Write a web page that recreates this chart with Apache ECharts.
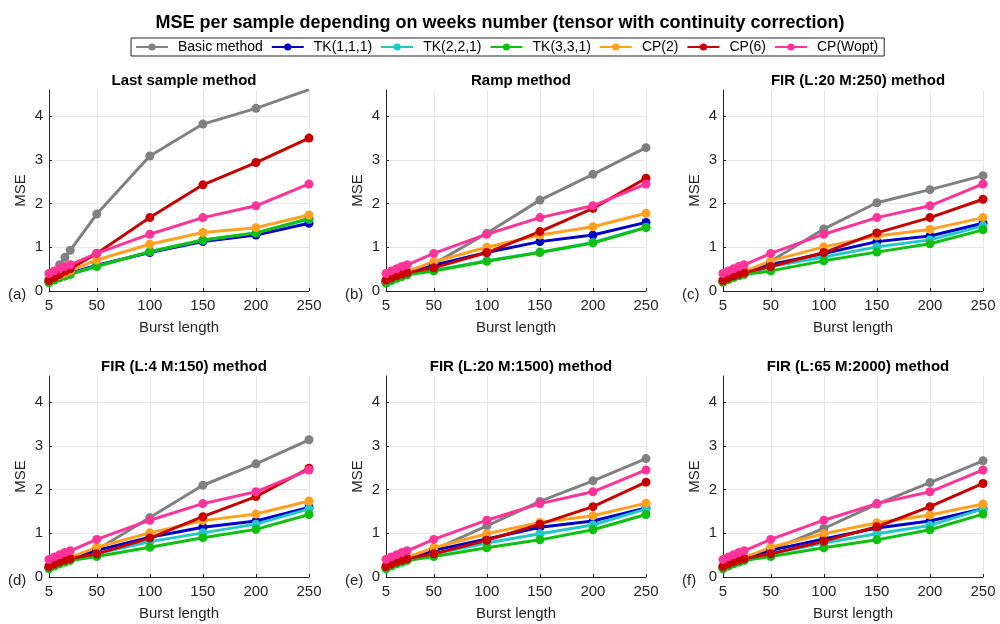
<!DOCTYPE html>
<html>
<head>
<meta charset="utf-8">
<script src="https://cdn.jsdelivr.net/npm/echarts@6/dist/echarts.min.js"></script>
<style>
  html, body { margin: 0; padding: 0; background: #fff; }
  #chart { width: 1000px; height: 624px; }
</style>
</head>
<body>
<div id="chart"></div>
<script>
// Burst lengths on the x axis
const burstLengths = [5, 10, 15, 20, 25, 50, 100, 150, 200, 250];
const xTicks = [5, 50, 100, 150, 200, 250];
const yTicks = [0, 1, 2, 3, 4];

const seriesNames = ['Basic method', 'TK(1,1,1)', 'TK(2,2,1)', 'TK(3,3,1)', 'CP(2)', 'CP(6)', 'CP(Wopt)'];
const seriesColors = ['#808080', '#0000c8', '#20c8c8', '#10c010', '#ffa020', '#c80000', '#ff3399'];

const panelTitles = [
  'Last sample method', 'Ramp method', 'FIR (L:20 M:250) method',
  'FIR (L:4 M:150) method', 'FIR (L:20 M:1500) method', 'FIR (L:65 M:2000) method'
];
const panelTags = ['(a)', '(b)', '(c)', '(d)', '(e)', '(f)'];

// CP(Wopt) does not depend on the reconstruction method
const cpWopt = [0.40, 0.46, 0.51, 0.56, 0.60, 0.86, 1.30, 1.68, 1.95, 2.45];

// Rows: Basic, TK(1,1,1), TK(2,2,1), TK(3,3,1), CP(2), CP(6)
const lastSample = [
  [0.25, 0.42, 0.60, 0.77, 0.93, 1.76, 3.09, 3.82, 4.18, 4.61],
  [0.22, 0.28, 0.33, 0.37, 0.41, 0.59, 0.88, 1.13, 1.28, 1.55],
  [0.21, 0.27, 0.32, 0.36, 0.39, 0.57, 0.90, 1.16, 1.33, 1.64],
  [0.19, 0.25, 0.30, 0.34, 0.38, 0.56, 0.90, 1.17, 1.33, 1.66],
  [0.25, 0.31, 0.36, 0.41, 0.46, 0.71, 1.07, 1.34, 1.45, 1.74],
  [0.24, 0.31, 0.38, 0.45, 0.51, 0.86, 1.68, 2.43, 2.94, 3.50]
];
const ramp = [
  [0.22, 0.28, 0.33, 0.37, 0.41, 0.62, 1.32, 2.08, 2.67, 3.28],
  [0.22, 0.28, 0.33, 0.37, 0.41, 0.59, 0.88, 1.13, 1.28, 1.57],
  [0.19, 0.25, 0.30, 0.34, 0.38, 0.47, 0.69, 0.89, 1.11, 1.46],
  [0.18, 0.24, 0.29, 0.33, 0.37, 0.46, 0.68, 0.88, 1.10, 1.45],
  [0.25, 0.31, 0.36, 0.41, 0.45, 0.67, 1.00, 1.28, 1.47, 1.78],
  [0.25, 0.30, 0.35, 0.39, 0.42, 0.53, 0.88, 1.36, 1.89, 2.58]
];
const fir20m250 = [
  [0.23, 0.29, 0.34, 0.38, 0.42, 0.68, 1.42, 2.02, 2.32, 2.64],
  [0.22, 0.28, 0.33, 0.37, 0.41, 0.61, 0.86, 1.13, 1.26, 1.55],
  [0.21, 0.27, 0.32, 0.36, 0.39, 0.56, 0.78, 1.01, 1.17, 1.49],
  [0.20, 0.26, 0.31, 0.35, 0.38, 0.46, 0.69, 0.89, 1.08, 1.40],
  [0.25, 0.31, 0.36, 0.41, 0.45, 0.69, 1.01, 1.26, 1.41, 1.68],
  [0.24, 0.30, 0.35, 0.39, 0.42, 0.56, 0.88, 1.33, 1.68, 2.10]
];
const fir4m150 = [
  [0.22, 0.28, 0.33, 0.37, 0.41, 0.62, 1.36, 2.10, 2.59, 3.14],
  [0.22, 0.28, 0.33, 0.37, 0.41, 0.61, 0.91, 1.14, 1.28, 1.59],
  [0.21, 0.27, 0.32, 0.36, 0.39, 0.53, 0.81, 1.01, 1.21, 1.56],
  [0.19, 0.25, 0.30, 0.34, 0.38, 0.47, 0.68, 0.90, 1.09, 1.43],
  [0.25, 0.31, 0.36, 0.41, 0.45, 0.68, 1.01, 1.29, 1.44, 1.74],
  [0.24, 0.30, 0.35, 0.39, 0.42, 0.53, 0.89, 1.38, 1.84, 2.49]
];
const fir20m1500 = [
  [0.22, 0.28, 0.33, 0.37, 0.41, 0.62, 1.17, 1.73, 2.20, 2.71],
  [0.22, 0.28, 0.33, 0.37, 0.41, 0.61, 0.87, 1.14, 1.28, 1.58],
  [0.21, 0.27, 0.32, 0.36, 0.39, 0.53, 0.78, 0.99, 1.19, 1.56],
  [0.19, 0.25, 0.30, 0.34, 0.38, 0.47, 0.67, 0.85, 1.08, 1.43],
  [0.25, 0.31, 0.36, 0.41, 0.45, 0.67, 0.99, 1.25, 1.40, 1.69],
  [0.24, 0.30, 0.35, 0.39, 0.42, 0.53, 0.84, 1.21, 1.61, 2.17]
];
const fir65m2000 = [
  [0.22, 0.28, 0.33, 0.37, 0.41, 0.62, 1.11, 1.67, 2.16, 2.66],
  [0.22, 0.28, 0.33, 0.37, 0.41, 0.61, 0.87, 1.12, 1.28, 1.56],
  [0.21, 0.27, 0.32, 0.36, 0.39, 0.53, 0.78, 0.99, 1.18, 1.56],
  [0.19, 0.25, 0.30, 0.34, 0.38, 0.47, 0.67, 0.85, 1.08, 1.44],
  [0.25, 0.31, 0.36, 0.41, 0.45, 0.68, 0.99, 1.24, 1.42, 1.67],
  [0.24, 0.30, 0.35, 0.39, 0.42, 0.53, 0.82, 1.15, 1.61, 2.14]
];
const panels = [lastSample, ramp, fir20m250, fir4m150, fir20m1500, fir65m2000];

// Panel geometry (pixels)
const colLeft = [49, 386, 723];
const rowTop = [90, 376];
const plotW = 260, plotH = 201;
const FONT = 'Liberation Sans, Arial, Helvetica, sans-serif';
const INK = '#262626';

const grid = [], xAxis = [], yAxis = [], series = [], title = [], graphic = [];

title.push({
  text: 'MSE per sample depending on weeks number (tensor with continuity correction)',
  left: 'center', top: 9,
  textStyle: { fontFamily: FONT, fontSize: 18, fontWeight: 'bold', color: '#000' }
});

panels.forEach((rows, p) => {
  const r = Math.floor(p / 3), c = p % 3;
  const left = colLeft[c], top = rowTop[r];
  grid.push({ left: left, top: top, width: plotW, height: plotH, containLabel: false });
  xAxis.push({
    type: 'value', gridIndex: p, min: 5, max: 250,
    name: 'Burst length', nameLocation: 'middle', nameGap: 29,
    nameTextStyle: { fontFamily: FONT, fontSize: 15, color: INK },
    axisLine: { show: true, lineStyle: { color: INK, width: 1 } },
    axisTick: { show: true, inside: true, length: 3, customValues: xTicks, lineStyle: { color: INK } },
    axisLabel: { customValues: xTicks, fontFamily: FONT, fontSize: 15, color: INK, margin: 7 },
    splitLine: { show: true, lineStyle: { color: '#e6e6e6', width: 1 } }
  });
  yAxis.push({
    type: 'value', gridIndex: p, min: 0, max: 4.6,
    name: 'MSE', nameLocation: 'middle', nameGap: 21,
    nameTextStyle: { fontFamily: FONT, fontSize: 15, color: INK },
    axisLine: { show: true, lineStyle: { color: INK, width: 1 } },
    axisTick: { show: true, inside: true, length: 3, customValues: yTicks, lineStyle: { color: INK } },
    axisLabel: { customValues: yTicks, fontFamily: FONT, fontSize: 15, color: INK, margin: 6 },
    splitLine: { show: true, lineStyle: { color: '#e6e6e6', width: 1 } }
  });
  title.push({
    text: panelTitles[p],
    left: left + plotW / 2, top: top - 22, textAlign: 'center',
    textStyle: { fontFamily: FONT, fontSize: 15, fontWeight: 'bold', color: '#000' }
  });
  graphic.push({
    type: 'text', left: left - 41, top: top + plotH - 4,
    style: { text: panelTags[p], font: '15px ' + FONT, fill: INK }
  });
  const allRows = rows.concat([cpWopt]);
  allRows.forEach((vals, s) => {
    series.push({
      type: 'line', name: seriesNames[s], xAxisIndex: p, yAxisIndex: p,
      data: burstLengths.map((x, i) => [x, vals[i]]),
      symbol: 'circle', symbolSize: 9,
      lineStyle: { width: 3, color: seriesColors[s] },
      itemStyle: { color: seriesColors[s] },
      emphasis: { disabled: true },
      animation: false
    });
  });
});

const chart = echarts.init(document.getElementById('chart'), null, { renderer: 'canvas' });
chart.setOption({
  backgroundColor: '#fff',
  animation: false,
  title: title,
  legend: {
    data: seriesNames, top: 38, left: 131,
    borderColor: INK, borderWidth: 1, padding: [2, 6, 2, 4],
    itemGap: 8, itemWidth: 32, itemHeight: 9,
    textStyle: { fontFamily: FONT, fontSize: 14, color: '#000', padding: [0, 0, 0, 5] }
  },
  grid: grid, xAxis: xAxis, yAxis: yAxis, series: series, graphic: graphic
});
</script>
</body>
</html>
